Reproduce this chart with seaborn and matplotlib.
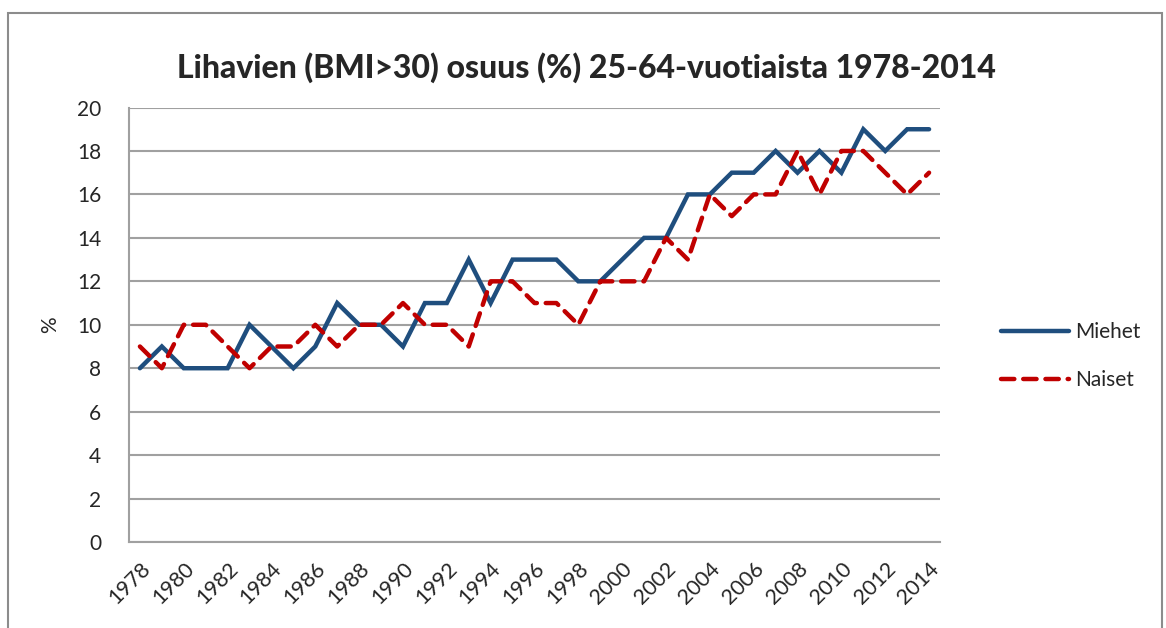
"""Lihavien osuus 25-64-vuotiaista 1978-2014, miehet ja naiset."""

import matplotlib
matplotlib.use("Agg")
import matplotlib.pyplot as plt
import matplotlib.patches as mpatches
import numpy as np
import pandas as pd
import seaborn as sns

# Data
years = list(range(1978, 2015))
miehet = [8, 9, 8, 8, 8, 10, 9, 8, 9, 11, 10, 10, 9, 11, 11, 13, 11, 13, 13, 13,
          12, 12, 13, 14, 14, 16, 16, 17, 17, 18, 17, 18, 17, 19, 18, 19, 19]
naiset = [9, 8, 10, 10, 9, 8, 9, 9, 10, 9, 10, 10, 11, 10, 10, 9, 12, 12, 11, 11,
          10, 12, 12, 12, 14, 13, 16, 15, 16, 16, 18, 16, 18, 18, 17, 16, 17]
series_names = ["Miehet", "Naiset"]
title = "Lihavien (BMI>30) osuus (%) 25-64-vuotiaista 1978-2014"
y_ticks = list(range(0, 21, 2))
x_ticks = list(range(1978, 2015, 2))

BLUE = "#1F4E7E"
RED = "#C00000"
GRID = "#A0A0A0"

sns.set_style("white")
plt.rcParams["font.family"] = ["Lato", "DejaVu Sans"]

df = pd.DataFrame({
    "vuosi": years * 2,
    "osuus": miehet + naiset,
    "sukupuoli": [series_names[0]] * len(years) + [series_names[1]] * len(years),
})

fig = plt.figure(figsize=(11.66, 6.28), dpi=100)
ax = fig.add_axes([0.1106, 0.1369, 0.8062 - 0.1106, 0.8288 - 0.1369])

sns.lineplot(
    data=df, x="vuosi", y="osuus", hue="sukupuoli", style="sukupuoli",
    palette={series_names[0]: BLUE, series_names[1]: RED},
    dashes={series_names[0]: "", series_names[1]: (3, 2)},
    linewidth=3.2, ax=ax, legend=True,
)
for line in ax.get_lines():
    line.set_solid_capstyle("round")
    line.set_dash_capstyle("round")
    line.set_solid_joinstyle("miter")

ax.set_xlim(1977.5, 2014.5)
ax.set_ylim(0, 20)
ax.set_yticks(y_ticks)
ax.set_xticks(x_ticks)
ax.set_xticklabels([str(y) for y in x_ticks], rotation=45, ha="right",
                   rotation_mode="anchor", fontsize=15.5)
ax.tick_params(axis="y", labelsize=15, length=0, pad=20)
ax.tick_params(axis="x", length=0, pad=12)
ax.yaxis.grid(True, color=GRID, linewidth=1.5)
ax.set_axisbelow(True)

for side in ["top", "right"]:
    ax.spines[side].set_visible(False)
for side in ["left", "bottom"]:
    ax.spines[side].set_color(GRID)
    ax.spines[side].set_linewidth(1.5)

ax.set_xlabel("")
ax.set_ylabel("%", fontsize=15, labelpad=12)

# Title is centred on the whole chart, not on the plot area
fig.text(586 / 1166, 1 - 68 / 628, title, fontsize=23, fontweight="black",
         ha="center", va="center")

handles, labels = ax.get_legend_handles_labels()
ax.legend(handles, labels, loc="center left", bbox_to_anchor=(1.052, 0.428),
          frameon=False, fontsize=15, handlelength=3.25, handletextpad=0.3,
          labelspacing=1.35)

# Outer chart frame
fig.patches.append(mpatches.Rectangle(
    (8 / 1166, -0.1), (1162 - 8) / 1166, 1.1 - 13 / 628,
    transform=fig.transFigure, fill=False, edgecolor="#8C8C8C", linewidth=1.5))

fig.savefig("out.png", dpi=100)
plt.close(fig)
